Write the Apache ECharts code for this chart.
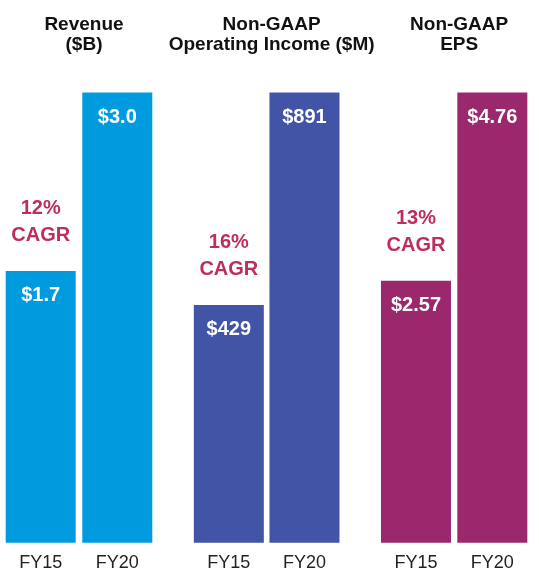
<!DOCTYPE html>
<html>
<head>
<meta charset="utf-8">
<script src="https://cdn.jsdelivr.net/npm/echarts@6/dist/echarts.min.js"></script>
<style>
	html, body { margin: 0; padding: 0; background: #fff; }
	#chartDiv { width: 539px; height: 573px; }
</style>
</head>
<body>
<div id="chartDiv"></div>
<script>
var categories = ['FY15', 'FY20'];
var titles = ['Revenue\n($B)', 'Non-GAAP\nOperating Income ($M)', 'Non-GAAP\nEPS'];
var revenue = [1.7, 3.0];
var opIncome = [429, 891];
var eps = [2.57, 4.76];
var cagr = ['12%', '16%', '13%'];

var panelValues = [revenue, opIncome, eps];
var decimals = [1, 0, 2];
// the source bars are not drawn from zero, the hidden axes start a little below it
var axisMin = [-0.28, -88, -0.48];
var colors = ['#009bde', '#4254a5', '#9b276d'];
var gridLeft = [2.4, 191, 377.8];
var gridWidth = [153.2, 151.3, 152.7];
var BAR_W = 70;

var chart = echarts.init(document.getElementById('chartDiv'));

function makeRender(panel) {
	return function (params, api) {
		var idx = api.value(0);
		var val = api.value(1);
		var top = api.coord([idx, val]);
		var base = api.coord([idx, axisMin[panel]]);
		var children = [{
			type: 'rect',
			shape: {
				x: top[0] - BAR_W / 2,
				y: top[1],
				width: BAR_W,
				height: base[1] - top[1]
			},
			style: { fill: colors[panel] },
			textContent: {
				style: {
					text: '$' + val.toFixed(decimals[panel]),
					fill: '#fff',
					font: 'bold 20px "Liberation Sans"',
					lineHeight: 22
				}
			},
			textConfig: { position: 'insideTop', distance: 14 }
		}];
		if (idx === 0) {
			// CAGR note above the FY15 bar
			children.push({
				type: 'text',
				style: {
					x: top[0],
					y: top[1] - 21.5,
					text: cagr[panel] + '\nCAGR',
					fill: '#be2d5e',
					font: 'bold 20px "Liberation Sans"',
					lineHeight: 27,
					align: 'center',
					verticalAlign: 'bottom'
				}
			});
		}
		return { type: 'group', children: children };
	};
}

function buildOption() {
	var grids = [], xAxes = [], yAxes = [], series = [], titleList = [];

	for (var i = 0; i < panelValues.length; i++) {
		var vals = panelValues[i];

		titleList.push({
			text: titles[i],
			left: gridLeft[i] + gridWidth[i] / 2,
			textAlign: 'center',
			top: 10,
			textStyle: {
				color: '#111',
				fontSize: 19,
				fontWeight: 'bold',
				fontFamily: 'Liberation Sans',
				lineHeight: 20
			}
		});

		grids.push({
			left: gridLeft[i],
			width: gridWidth[i],
			top: 92.5,
			bottom: 30.3,
			outerBoundsMode: 'none'
		});

		xAxes.push({
			type: 'category',
			gridIndex: i,
			data: categories,
			axisLine: { show: false },
			axisTick: { show: false },
			axisLabel: {
				color: '#222',
				fontSize: 18,
				fontFamily: 'Liberation Sans',
				margin: 11
			}
		});

		yAxes.push({
			type: 'value',
			gridIndex: i,
			min: axisMin[i],
			max: vals[vals.length - 1],
			show: false,
			splitLine: { show: false }
		});

		series.push({
			type: 'custom',
			xAxisIndex: i,
			yAxisIndex: i,
			data: vals.map(function (v, k) { return [k, v]; }),
			encode: { x: 0, y: 1 },
			renderItem: makeRender(i),
			animation: false
		});
	}

	return {
		backgroundColor: '#fff',
		title: titleList,
		grid: grids,
		xAxis: xAxes,
		yAxis: yAxes,
		series: series
	};
}

var option = buildOption();
if (option && typeof option === "object") {
	chart.setOption(option, true);
}
</script>
</body>
</html>
